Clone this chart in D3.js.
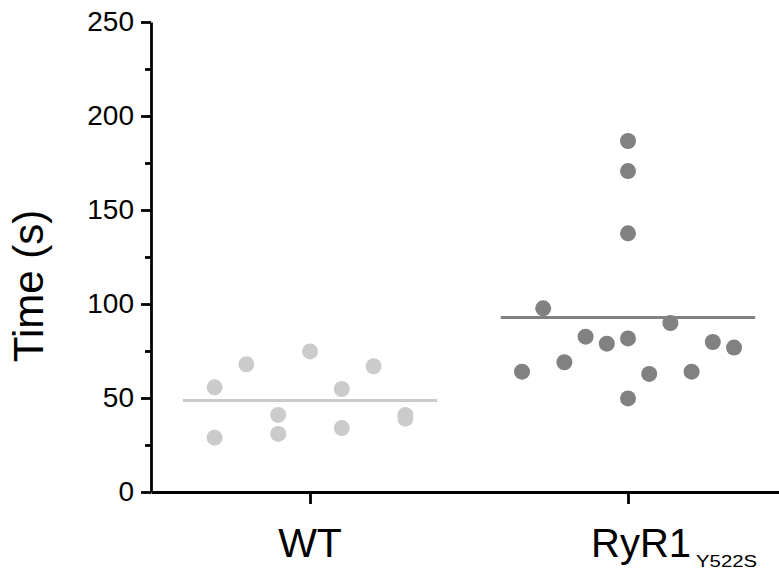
<!DOCTYPE html>
<html>
<head>
<meta charset="utf-8">
<script src="https://cdn.jsdelivr.net/npm/d3@7"></script>
<style>
body { margin: 0; background: #fff; }
svg { display: block; font-family: "Liberation Sans", Arial, sans-serif; }
</style>
</head>
<body>
<div id="chart"></div>
<script>
// data
var groups = ["WT", "RyR1"];
var wtValues = [55.7, 28.9, 67.9, 41, 30.9, 74.8, 54.8, 34, 66.9, 41, 39];
var wtCols   = [-3, -3, -2, -1, -1, 0, 1, 1, 2, 3, 3];
var ryrValues = [186.7, 170.7, 137.6, 97.7, 64, 69, 82.6, 78.9, 81.7, 49.8, 62.8, 89.9, 64, 79.8, 76.8];
var ryrCols   = [0, 0, 0, -4, -5, -3, -2, -1, 0, 0, 1, 2, 3, 4, 5];
var yTicks = [0, 50, 100, 150, 200, 250];
var yMinorTicks = [25, 75, 125, 175, 225];

var width = 779, height = 576;

var svg = d3.select("#chart").append("svg").attr("width", width).attr("height", height);

var x = d3.scaleLinear().domain([0.5, 2.5]).range([151, 787]),
    y = d3.scaleLinear().domain([0, 250]).range([492, 22]);

var series = [
    {pos: 1, values: wtValues, cols: wtCols, step: 0.1, color: "#cbcbcb"},
    {pos: 2, values: ryrValues, cols: ryrCols, step: 1/15, color: "#818181"}
];

// mean lines
svg.append("g").selectAll("line")
    .data(series)
    .enter()
    .append("line")
    .attr("x1", d => x(d.pos - 0.4))
    .attr("x2", d => x(d.pos + 0.4))
    .attr("y1", d => y(d3.mean(d.values)))
    .attr("y2", d => y(d3.mean(d.values)))
    .style("stroke", d => d.color)
    .style("stroke-width", 3);

// dots
series.forEach(s => {
    svg.append("g").selectAll("circle")
        .data(s.values)
        .enter()
        .append("circle")
        .attr("cx", (d, i) => x(s.pos + s.cols[i] * s.step))
        .attr("cy", d => y(d))
        .attr("r", 8)
        .style("fill", s.color);
});

// y axis
var yAxisG = svg.append("g").attr("transform", "translate(" + x(0.5) + ",0)")
    .call(d3.axisLeft(y).tickValues(yTicks).tickSize(10).tickSizeOuter(0).tickPadding(7));
svg.append("g").attr("transform", "translate(" + x(0.5) + ",0)")
    .call(d3.axisLeft(y).tickValues(yMinorTicks).tickSize(6).tickFormat(""))
    .select(".domain").remove();

// x axis
var xAxisG = svg.append("g").attr("transform", "translate(0," + y(0) + ")")
    .call(d3.axisBottom(x).tickValues([1, 2]).tickSize(12).tickSizeOuter(0).tickFormat(""));

svg.selectAll(".domain, .tick line").style("stroke", "#000").style("stroke-width", 2.8);
yAxisG.selectAll(".tick text").style("font-size", "28px").style("fill", "#000")
    .style("font-family", "'Liberation Sans', Arial, sans-serif");

// category labels
var labels = svg.append("g");
labels.append("text")
    .attr("x", x(1)).attr("y", 557)
    .attr("text-anchor", "middle")
    .style("font-size", "41px")
    .text(groups[0]);
var ryrLabel = labels.append("text")
    .attr("x", x(2) - 37).attr("y", 557)
    .style("font-size", "40px");
ryrLabel.append("tspan").text(groups[1]);
ryrLabel.append("tspan")
    .attr("dx", 5).attr("dy", 10)
    .attr("textLength", 61).attr("lengthAdjust", "spacingAndGlyphs")
    .style("font-size", "16px")
    .text("Y522S");

// y title
svg.append("text")
    .attr("transform", "translate(43,286) rotate(-90)")
    .attr("text-anchor", "middle")
    .style("font-size", "42px")
    .text("Time (s)");
</script>
</body>
</html>
